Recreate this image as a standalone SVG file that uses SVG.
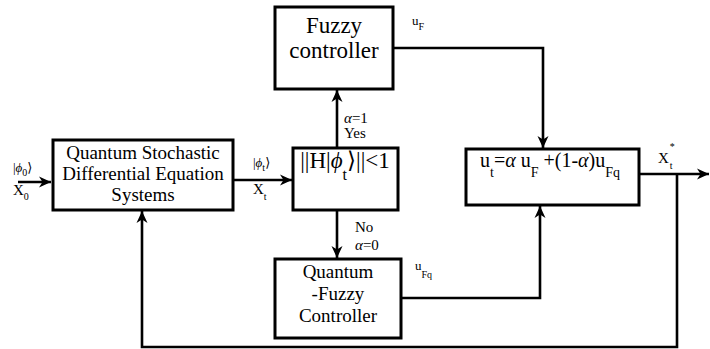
<svg xmlns="http://www.w3.org/2000/svg" width="710" height="349" viewBox="0 0 710 349">
<style>
.box{fill:#fff;stroke:#000;stroke-width:3}
.wire{fill:none;stroke:#000;stroke-width:2.6}
text{font-family:"Liberation Serif","DejaVu Serif",serif;fill:#000}
.t19{font-size:19px}
.t23{font-size:23px}
.lbl{font-size:15px}
.sm{font-size:13px}
.sub{font-size:10px}
</style>
<defs>
<marker id="ah" markerUnits="userSpaceOnUse" markerWidth="14" markerHeight="12" refX="12" refY="6" orient="auto">
<path d="M0,0.5 L12,6 L0,11.5 L3.5,6 Z" fill="#000"/>
</marker>
</defs>
<g id="connectors">
<line class="wire" x1="18" y1="182" x2="51" y2="182" marker-end="url(#ah)"/>
<line class="wire" x1="233" y1="180" x2="292" y2="180" marker-end="url(#ah)"/>
<line class="wire" x1="337" y1="147" x2="337" y2="90" marker-end="url(#ah)"/>
<line class="wire" x1="337" y1="211" x2="337" y2="258" marker-end="url(#ah)"/>
<polyline class="wire" points="393,48 543,48 543,148" marker-end="url(#ah)"/>
<polyline class="wire" points="401,298 540,298 540,206" marker-end="url(#ah)"/>
<line class="wire" x1="639" y1="174" x2="709" y2="174" marker-end="url(#ah)"/>
<polyline class="wire" points="677,174 677,347 142,347 142,211" marker-end="url(#ah)"/>
</g>
<g id="qsde">
<rect class="box" x="53" y="140" width="180" height="70"/>
<text class="t19" x="143" y="159" text-anchor="middle">Quantum Stochastic</text>
<text class="t19" x="143" y="180" text-anchor="middle">Differential Equation</text>
<text class="t19" x="143" y="201" text-anchor="middle">Systems</text>
</g>
<g id="condition">
<rect class="box" x="293" y="148" width="105" height="62"/>
<text class="t23" x="345" y="168" text-anchor="middle">||H|<tspan font-style="italic">ϕ</tspan><tspan dy="12" font-size="16">t</tspan><tspan dy="-12">⟩||&lt;1</tspan></text>
</g>
<g id="fuzzy">
<rect class="box" x="275" y="7" width="118" height="82"/>
<text class="t23" x="334" y="33" text-anchor="middle">Fuzzy</text>
<text class="t23" x="334" y="58" text-anchor="middle">controller</text>
</g>
<g id="qfc">
<rect class="box" x="275" y="259" width="126" height="79"/>
<text class="t19" x="338" y="278" text-anchor="middle">Quantum</text>
<text class="t19" x="338" y="300" text-anchor="middle">-Fuzzy</text>
<text class="t19" x="338" y="322" text-anchor="middle">Controller</text>
</g>
<g id="sum">
<rect class="box" x="466" y="149" width="173" height="56"/>
<text font-size="20" x="480" y="167">u<tspan dy="10" font-size="14">t</tspan><tspan dy="-10">=<tspan font-style="italic">α</tspan> u</tspan><tspan dy="10" font-size="14">F</tspan><tspan dy="-10"> +(1-<tspan font-style="italic">α</tspan>)u</tspan><tspan dy="10" font-size="14">Fq</tspan></text>
</g>
<g id="labels">
<text class="sm" x="412" y="25">u<tspan class="sub" dy="5">F</tspan></text>
<text class="sm" x="415" y="270">u<tspan class="sub" dy="8">Fq</tspan></text>
<text class="lbl" x="344" y="123"><tspan font-style="italic">α</tspan>=1</text>
<text class="lbl" x="344" y="138">Yes</text>
<text class="lbl" x="355" y="232">No</text>
<text class="lbl" x="355" y="250"><tspan font-style="italic">α</tspan>=0</text>
<text class="sm" x="253" y="167" fill="#444">|<tspan font-style="italic">ϕ</tspan><tspan class="sub" dy="4">t</tspan><tspan dy="-4">⟩</tspan></text>
<text class="lbl" x="253" y="194">X<tspan class="sub" dy="6">t</tspan></text>
<text class="sm" x="13" y="172" fill="#555">|<tspan font-style="italic">ϕ</tspan><tspan class="sub" dy="4">0</tspan><tspan dy="-4">⟩</tspan></text>
<text class="lbl" x="13" y="195" fill="#333">X<tspan class="sub" dy="5">0</tspan></text>
<text class="lbl" x="658" y="163">X<tspan class="sub" dx="1" dy="-13">*</tspan><tspan class="sub" dx="-5" dy="19">t</tspan></text>
</g>
</svg>
